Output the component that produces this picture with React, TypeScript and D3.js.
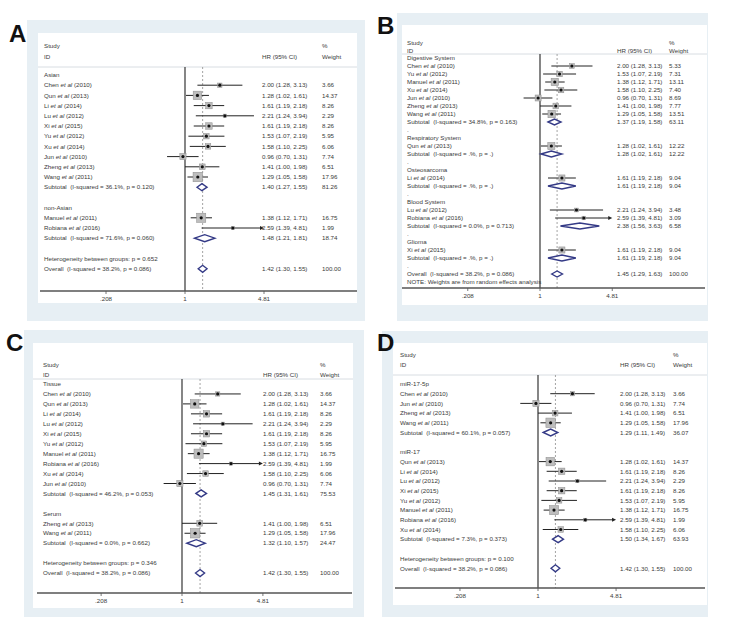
import React from 'react';
import * as d3 from 'd3';

// ---------- Panel A ----------
const aLabels = [
  'Asian', 'Chen et al (2010)', 'Qun et al (2013)', 'Li et al (2014)', 'Lu et al (2012)', 'Xi et al (2015)',
  'Yu et al (2012)', 'Xu et al (2014)', 'Jun et al (2010)', 'Zheng et al (2013)', 'Wang et al (2011)',
  'Subtotal  (I-squared = 36.1%, p = 0.120)', '', 'non-Asian', 'Manuel et al (2011)', 'Robiana et al (2016)',
  'Subtotal  (I-squared = 71.6%, p = 0.060)', '', 'Heterogeneity between groups: p = 0.652',
  'Overall  (I-squared = 38.2%, p = 0.086)',
];
const aHR = [null, 2.0, 1.28, 1.61, 2.21, 1.61, 1.53, 1.58, 0.96, 1.41, 1.29, 1.4, null, null, 1.38, 2.59, 1.48, null, null, 1.42];
const aLo = [null, 1.28, 1.02, 1.19, 1.24, 1.19, 1.07, 1.1, 0.7, 1.0, 1.05, 1.27, null, null, 1.12, 1.39, 1.21, null, null, 1.3];
const aHi = [null, 3.13, 1.61, 2.18, 3.94, 2.18, 2.19, 2.25, 1.31, 1.98, 1.58, 1.55, null, null, 1.71, 4.81, 1.81, null, null, 1.55];
const aWeight = [null, 3.66, 14.37, 8.26, 2.29, 8.26, 5.95, 6.06, 7.74, 6.51, 17.96, 81.26, null, null, 16.75, 1.99, 18.74, null, null, 100.0];

// ---------- Panel B ----------
const bLabels = [
  'Digestive System', 'Chen et al (2010)', 'Yu et al (2012)', 'Manuel et al (2011)', 'Xu et al (2014)',
  'Jun et al (2010)', 'Zheng et al (2013)', 'Wang et al (2011)', 'Subtotal  (I-squared = 34.8%, p = 0.163)', '.',
  'Respiratory System', 'Qun et al (2013)', 'Subtotal  (I-squared = .%, p = .)', '.',
  'Osteosarcoma', 'Li et al (2014)', 'Subtotal  (I-squared = .%, p = .)', '.',
  'Blood System', 'Lu et al (2012)', 'Robiana et al (2016)', 'Subtotal  (I-squared = 0.0%, p = 0.713)', '.',
  'Glioma', 'Xi et al (2015)', 'Subtotal  (I-squared = .%, p = .)', '.',
  'Overall  (I-squared = 38.2%, p = 0.086)', 'NOTE: Weights are from random effects analysis',
];
const bHR = [null, 2.0, 1.53, 1.38, 1.58, 0.96, 1.41, 1.29, 1.37, null, null, 1.28, 1.28, null, null, 1.61, 1.61, null, null, 2.21, 2.59, 2.38, null, null, 1.61, 1.61, null, 1.45, null];
const bLo = [null, 1.28, 1.07, 1.12, 1.1, 0.7, 1.0, 1.05, 1.19, null, null, 1.02, 1.02, null, null, 1.19, 1.19, null, null, 1.24, 1.39, 1.56, null, null, 1.19, 1.19, null, 1.29, null];
const bHi = [null, 3.13, 2.19, 1.71, 2.25, 1.31, 1.98, 1.58, 1.58, null, null, 1.61, 1.61, null, null, 2.18, 2.18, null, null, 3.94, 4.81, 3.63, null, null, 2.18, 2.18, null, 1.63, null];
const bWeight = [null, 5.33, 7.31, 13.11, 7.4, 8.69, 7.77, 13.51, 63.11, null, null, 12.22, 12.22, null, null, 9.04, 9.04, null, null, 3.48, 3.09, 6.58, null, null, 9.04, 9.04, null, 100.0, null];

// ---------- Panel C ----------
const cLabels = [
  'Tissue', 'Chen et al (2010)', 'Qun et al (2013)', 'Li et al (2014)', 'Lu et al (2012)', 'Xi et al (2015)',
  'Yu et al (2012)', 'Manuel et al (2011)', 'Robiana et al (2016)', 'Xu et al (2014)', 'Jun et al (2010)',
  'Subtotal  (I-squared = 46.2%, p = 0.053)', '', 'Serum', 'Zheng et al (2013)', 'Wang et al (2011)',
  'Subtotal  (I-squared = 0.0%, p = 0.662)', '', 'Heterogeneity between groups: p = 0.346',
  'Overall  (I-squared = 38.2%, p = 0.086)',
];
const cHR = [null, 2.0, 1.28, 1.61, 2.21, 1.61, 1.53, 1.38, 2.59, 1.58, 0.96, 1.45, null, null, 1.41, 1.29, 1.32, null, null, 1.42];
const cLo = [null, 1.28, 1.02, 1.19, 1.24, 1.19, 1.07, 1.12, 1.39, 1.1, 0.7, 1.31, null, null, 1.0, 1.05, 1.1, null, null, 1.3];
const cHi = [null, 3.13, 1.61, 2.18, 3.94, 2.18, 2.19, 1.71, 4.81, 2.25, 1.31, 1.61, null, null, 1.98, 1.58, 1.57, null, null, 1.55];
const cWeight = [null, 3.66, 14.37, 8.26, 2.29, 8.26, 5.95, 16.75, 1.99, 6.06, 7.74, 75.53, null, null, 6.51, 17.96, 24.47, null, null, 100.0];

// ---------- Panel D ----------
const dLabels = [
  'miR-17-5p', 'Chen et al (2010)', 'Jun et al (2010)', 'Zheng et al (2013)', 'Wang et al (2011)',
  'Subtotal  (I-squared = 60.1%, p = 0.057)', '', 'miR-17', 'Qun et al (2013)', 'Li et al (2014)',
  'Lu et al (2012)', 'Xi et al (2015)', 'Yu et al (2012)', 'Manuel et al (2011)', 'Robiana et al (2016)',
  'Xu et al (2014)', 'Subtotal  (I-squared = 7.3%, p = 0.373)', '', 'Heterogeneity between groups: p = 0.100',
  'Overall  (I-squared = 38.2%, p = 0.086)',
];
const dHR = [null, 2.0, 0.96, 1.41, 1.29, 1.29, null, null, 1.28, 1.61, 2.21, 1.61, 1.53, 1.38, 2.59, 1.58, 1.5, null, null, 1.42];
const dLo = [null, 1.28, 0.7, 1.0, 1.05, 1.11, null, null, 1.02, 1.19, 1.24, 1.19, 1.07, 1.12, 1.39, 1.1, 1.34, null, null, 1.3];
const dHi = [null, 3.13, 1.31, 1.98, 1.58, 1.49, null, null, 1.61, 2.18, 3.94, 2.18, 2.19, 1.71, 4.81, 2.25, 1.67, null, null, 1.55];
const dWeight = [null, 3.66, 7.74, 6.51, 17.96, 36.07, null, null, 14.37, 8.26, 2.29, 8.26, 5.95, 16.75, 1.99, 6.06, 63.93, null, null, 100.0];

const tickValues = [0.208, 1, 4.81];
const tickLabels = ['.208', '1', '4.81'];

const FONT = "'Liberation Sans', Arial, sans-serif";
const TXT = '#3a3a3a';
const BG = '#e7eff4';
const FS = 6.2;

type Geo = {
  letter: string; lx: number; ly: number;
  bg: [number, number, number, number];
  white: [number, number, number, number];
  studyY: number; idY: number; lineY: number;
  rowStart: number; rowStep: number;
  nullX: number; ppl: number;
  axisY: number; axisX0: number; axisX1: number;
  labelX: number; hrX: number; wX: number;
  box: number; dh: number;
};

function Label({ x, y, text }: { x: number; y: number; text: string }) {
  const idx = text.indexOf(' et al ');
  if (idx >= 0) {
    return (
      <text x={x} y={y} fontSize={FS} fill={TXT} fontFamily={FONT}>
        {text.slice(0, idx) + ' '}
        <tspan fontStyle="italic">et al</tspan>
        {' ' + text.slice(idx + 7)}
      </text>
    );
  }
  return (
    <text x={x} y={y} fontSize={FS} fill={TXT} fontFamily={FONT} style={{ whiteSpace: 'pre' }}>
      {text}
    </text>
  );
}

function Forest({ g, labels, hr, lo, hi, wt }: { g: Geo; labels: string[]; hr: (number | null)[]; lo: (number | null)[]; hi: (number | null)[]; wt: (number | null)[] }) {
  const x = d3.scaleLog().domain([0.208, 4.81]).range([g.nullX - g.ppl * Math.log(1 / 0.208), g.nullX + g.ppl * Math.log(4.81)]);
  const yOf = (i: number) => g.rowStart + i * g.rowStep;
  const isSum = (s: string) => s.startsWith('Subtotal') || s.startsWith('Overall');
  const studyW = wt.filter((w, i) => w != null && !isSum(labels[i])) as number[];
  const maxW = d3.max(studyW) as number;
  const overallIdx = labels.findIndex((s) => s.startsWith('Overall'));
  const overallX = x(hr[overallIdx] as number);
  const fmt = d3.format('.2f');

  return (
    <g>
      <rect x={g.bg[0]} y={g.bg[1]} width={g.bg[2]} height={g.bg[3]} fill={BG} />
      <rect x={g.white[0]} y={g.white[1]} width={g.white[2]} height={g.white[3]} fill="#fff" />
      <text x={g.lx} y={g.ly} fontSize={24} fontFamily={FONT} fontWeight={600} fill="#111">{g.letter}</text>

      {/* header */}
      <text x={g.labelX} y={g.studyY + 2} fontSize={FS} fill={TXT} fontFamily={FONT}>Study</text>
      <text x={g.labelX} y={g.idY + 2} fontSize={FS} fill={TXT} fontFamily={FONT}>ID</text>
      <text x={g.hrX} y={g.idY + 2} fontSize={FS} fill={TXT} fontFamily={FONT}>HR (95% CI)</text>
      <text x={g.wX} y={g.studyY + 2} fontSize={FS} fill={TXT} fontFamily={FONT}>%</text>
      <text x={g.wX} y={g.idY + 2} fontSize={FS} fill={TXT} fontFamily={FONT}>Weight</text>
      <line x1={g.white[0]} x2={g.white[0] + g.white[2]} y1={g.lineY} y2={g.lineY} stroke="#d8dde2" strokeWidth={1} />

      {/* reference lines */}
      <line x1={overallX} x2={overallX} y1={g.lineY} y2={g.axisY} stroke="#9a9a9a" strokeWidth={0.9} strokeDasharray="2,2" />
      <line x1={g.nullX} x2={g.nullX} y1={g.lineY} y2={g.axisY} stroke="#444" strokeWidth={1.3} />

      {labels.map((s, i) => {
        const y = yOf(i);
        const v = hr[i];
        const items: React.ReactNode[] = [];
        items.push(<Label key="l" x={g.labelX} y={y + 2.2} text={s} />);
        if (v != null) {
          const l = lo[i] as number, h = hi[i] as number, w = wt[i] as number;
          items.push(
            <text key="hr" x={g.hrX} y={y + 2.2} fontSize={FS} fill={TXT} fontFamily={FONT}>
              {`${fmt(v)} (${fmt(l)}, ${fmt(h)})`}
            </text>
          );
          items.push(
            <text key="w" x={g.wX} y={y + 2.2} fontSize={FS} fill={TXT} fontFamily={FONT}>{fmt(w)}</text>
          );
          if (isSum(s)) {
            const pts = [[x(l), y], [x(v), y - g.dh / 2], [x(h), y], [x(v), y + g.dh / 2]];
            items.push(<polygon key="d" points={pts.map((p) => p.join(',')).join(' ')} fill="#fff" stroke="#343a86" strokeWidth={1.4} />);
          } else {
            const side = g.box * Math.sqrt(w / maxW);
            const arrow = h >= 4.81;
            const xe = x(h);
            items.push(<line key="ci" x1={x(l)} x2={arrow ? xe - 3 : xe} y1={y} y2={y} stroke="#222" strokeWidth={1} />);
            if (arrow) {
              items.push(<path key="ar" d={`M${xe},${y} L${xe - 4},${y - 2} L${xe - 4},${y + 2} Z`} fill="#222" />);
            }
            items.push(<rect key="sq" x={x(v) - side / 2} y={y - side / 2} width={side} height={side} fill="#bdbdbd" stroke="#8c8c8c" strokeWidth={0.5} />);
            items.push(<circle key="pt" cx={x(v)} cy={y} r={1.6} fill="#111" />);
          }
        }
        return <g key={i}>{items}</g>;
      })}

      {/* axis */}
      <line x1={g.axisX0} x2={g.axisX1} y1={g.axisY} y2={g.axisY} stroke="#555" strokeWidth={1.3} />
      {tickValues.map((t, i) => (
        <g key={i}>
          <line x1={x(t)} x2={x(t)} y1={g.axisY} y2={g.axisY + 3} stroke="#555" strokeWidth={0.8} />
          <text x={x(t)} y={g.axisY + 10} fontSize={FS} fill={TXT} fontFamily={FONT} textAnchor="middle">{tickLabels[i]}</text>
        </g>
      ))}
    </g>
  );
}

const geoA: Geo = {
  letter: 'A', lx: 9, ly: 42, bg: [27, 20, 338, 301], white: [38, 33, 319, 270],
  studyY: 46, idY: 57, lineY: 67, rowStart: 75, rowStep: 10.2,
  nullX: 185, ppl: 50.3, axisY: 291, axisX0: 40, axisX1: 357,
  labelX: 44, hrX: 262, wX: 322, box: 9.5, dh: 7,
};
const geoB: Geo = {
  letter: 'B', lx: 377, ly: 34, bg: [397, 13, 311, 308], white: [402, 25, 305, 280],
  studyY: 43, idY: 51, lineY: 54, rowStart: 58, rowStep: 8,
  nullX: 540, ppl: 46, axisY: 288, axisX0: 402, axisX1: 705,
  labelX: 407, hrX: 617, wX: 669, box: 7.5, dh: 6,
};
const geoC: Geo = {
  letter: 'C', lx: 6, ly: 351, bg: [24, 330, 340, 287], white: [33, 343, 320, 265],
  studyY: 365, idY: 375, lineY: 379, rowStart: 384, rowStep: 9.95,
  nullX: 182, ppl: 51.5, axisY: 593, axisX0: 37, axisX1: 352,
  labelX: 43, hrX: 263, wX: 320, box: 9.5, dh: 7,
};
const geoD: Geo = {
  letter: 'D', lx: 377, ly: 351, bg: [382, 331, 326, 286], white: [393, 343, 314, 262],
  studyY: 355, idY: 365, lineY: 375, rowStart: 384, rowStep: 9.7,
  nullX: 538, ppl: 49.7, axisY: 588, axisX0: 395, axisX1: 705,
  labelX: 400, hrX: 620, wX: 673, box: 9.5, dh: 7,
};

export default function App() {
  return (
    <svg width={729} height={628} style={{ position: 'absolute', left: 0, top: 0, background: '#fff' }}>
      <rect width={729} height={628} fill="#fff" />
      <Forest g={geoA} labels={aLabels} hr={aHR} lo={aLo} hi={aHi} wt={aWeight} />
      <Forest g={geoB} labels={bLabels} hr={bHR} lo={bLo} hi={bHi} wt={bWeight} />
      <Forest g={geoC} labels={cLabels} hr={cHR} lo={cLo} hi={cHi} wt={cWeight} />
      <Forest g={geoD} labels={dLabels} hr={dHR} lo={dLo} hi={dHi} wt={dWeight} />
    </svg>
  );
}
